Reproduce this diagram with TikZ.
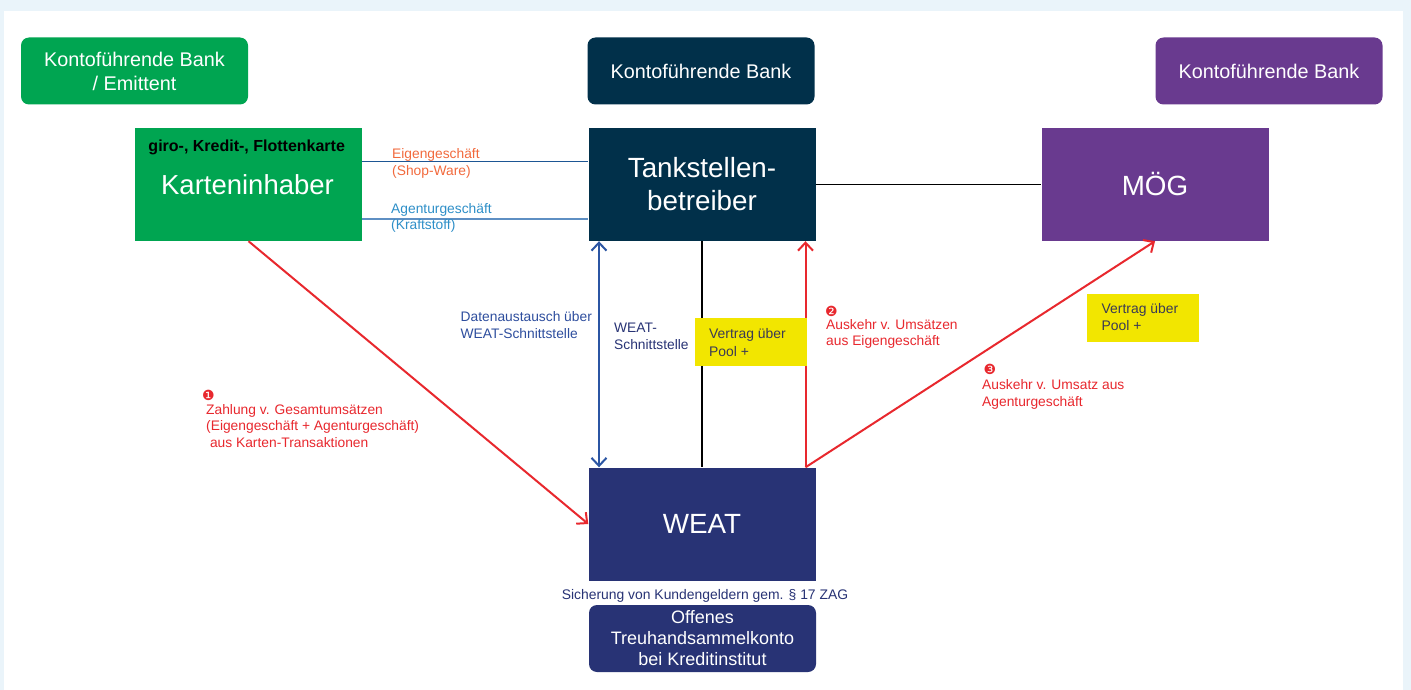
\documentclass[tikz,border=0pt]{standalone}
\usepackage{fontspec}
\setmainfont{Liberation Sans}
\newfontfamily\dingfont{DejaVu Sans}
\usetikzlibrary{arrows.meta}
\definecolor{bgblue}{HTML}{EAF4FA}
\definecolor{kgreen}{HTML}{00A551}
\definecolor{kteal}{HTML}{01304A}
\definecolor{kpurple}{HTML}{693A8F}
\definecolor{knavy}{HTML}{283375}
\definecolor{kyellow}{HTML}{F2E600}
\definecolor{kred}{HTML}{E8282E}
\definecolor{kblue}{HTML}{2B55A3}
\definecolor{eigline}{HTML}{1D5694}
\definecolor{agline}{HTML}{5E8FC3}
\definecolor{eigtext}{HTML}{F26A3D}
\definecolor{agtext}{HTML}{2E8FC8}
\definecolor{datatext}{HTML}{2E4E9E}
\definecolor{ytext}{HTML}{3A3A55}
\newcommand{\fs}[2]{\fontsize{#1}{#2}\selectfont}
\tikzset{
  boxbase/.style={draw=none, minimum width=227pt, inner sep=0pt, text=white, align=center},
  topbox/.style={boxbase, rounded corners=8pt, minimum height=67pt, font=\fs{19.8}{24}},
  bigbox/.style={boxbase, minimum height=113pt, font=\fs{27.8}{33}},
  ybox/.style={fill=kyellow, minimum width=112pt, minimum height=48pt, inner sep=0pt},
  ytxt/.style={anchor=north west, inner sep=0pt, align=left, text=ytext, font=\fs{13.9}{17.5}},
  lbl/.style={anchor=north west, inner sep=0pt, align=left, font=\fs{13.8}{16.5}},
  redarrow/.style={draw=kred, line width=2pt, -{Straight Barb[length=8pt,width=15pt,line width=2pt]}},
  blkline/.style={draw=black, line width=1.5pt},
  num/.style={inner sep=0pt, text=kred, font=\dingfont\fs{14}{14}}
}
\begin{document}
\begin{tikzpicture}[x=1pt,y=-1pt]
\fill[bgblue] (0,0) rectangle (1411,690);
\fill[white] (4,11) rectangle (1403,690);
\useasboundingbox (0,0) rectangle (1411,690);

% top boxes
\node[topbox, fill=kgreen] (bank1) at (134.5,71) {Kontoführende Bank\\/ Emittent};
\node[topbox, fill=kteal] (bank2) at (701,71) {Kontoführende Bank};
\node[topbox, fill=kpurple] (bank3) at (1269,71) {Kontoführende Bank};

% main boxes
\node[bigbox, fill=kgreen] (kart) at (248.5,184.5) {};
\node[inner sep=0pt, text=white, font=\fs{27.5}{33}, anchor=base] (kartt) at (247.5,194.5) {Karteninhaber};
\node[inner sep=0pt, font=\bfseries\fs{16}{18}, anchor=base] (giro) at (246.7,152) {giro-, Kredit-, Flottenkarte};
\node[bigbox, fill=kteal] (tank) at (702,184.5) {Tankstellen-\\betreiber};
\node[bigbox, fill=kpurple] (moeg) at (1155,184.5) {MÖG};
\node[bigbox, fill=knavy] (weat) at (702,524) {WEAT};
\node[boxbase, fill=knavy, rounded corners=8pt, minimum height=67pt, font=\fs{18}{21}] (treu) at (702.5,638.5) {Offenes\\Treuhandsammelkonto\\bei Kreditinstitut};
\node[inner sep=0pt, text=knavy, font=\fs{13.9}{15}, anchor=base] (sich) at (705,599) {Sicherung von Kundengeldern gem. § 17 ZAG};

% lines Karteninhaber - Tankstelle
\draw[eigline, line width=1.5pt] ([yshift=22.8pt]kart.east) -- ([yshift=22.8pt]tank.west);
\draw[agline, line width=1.5pt] ([yshift=-34.5pt]kart.east) -- ([yshift=-34.5pt]tank.west);
\node[lbl, text=eigtext] (eig) at (392,148.5) {Eigengeschäft\\(Shop-Ware)};
\node[lbl, text=agtext] (ag) at (391,203) {Agenturgeschäft\\(Kraftstoff)};

% Tankstelle - MÖG
\draw[blkline] (tank.east) -- (moeg.west);
% Tankstelle - WEAT
\draw[blkline] (tank.south) -- (weat.north);
\draw[draw=kblue, line width=2pt, {Straight Barb[length=8pt,width=15pt,line width=2pt]}-{Straight Barb[length=8pt,width=15pt,line width=2pt]}] ([xshift=-103pt]tank.south) -- ([xshift=-103pt]weat.north);
\draw[redarrow] ([xshift=103.5pt]weat.north) -- ([xshift=103.5pt]tank.south);
\draw[redarrow] ([xshift=103.5pt]weat.north) -- (moeg.south);
\draw[redarrow] (kart.south) -- (weat.west);

% yellow boxes
\node[ybox, anchor=north west] (y1) at (695,318) {};
\node[ytxt] (y1t) at (709,328.5) {Vertrag über\\Pool +};
\node[ybox, anchor=north west] (y2) at (1087,294) {};
\node[ytxt] (y2t) at (1101.5,303) {Vertrag über\\Pool +};

% labels
\node[lbl, text=datatext] (daten) at (460.5,311.5) {Datenaustausch über\\WEAT-Schnittstelle};
\node[lbl, text=knavy] (schnitt) at (614,323) {WEAT-\\Schnittstelle};

\node[num] (n1) at (208.5,395.5) {❶};
\node[lbl, text=kred] (l1) at (206,404) {Zahlung v. Gesamtumsätzen\\(Eigengeschäft + Agenturgeschäft)\\\ aus Karten-Transaktionen};
\node[num] (n2) at (831.5,311.5) {❷};
\node[lbl, text=kred] (l2) at (826,319) {Auskehr v. Umsätzen\\aus Eigengeschäft};
\node[num] (n3) at (990,369) {❸};
\node[lbl, text=kred] (l3) at (982,379.5) {Auskehr v. Umsatz aus\\Agenturgeschäft};
\end{tikzpicture}
\end{document}
